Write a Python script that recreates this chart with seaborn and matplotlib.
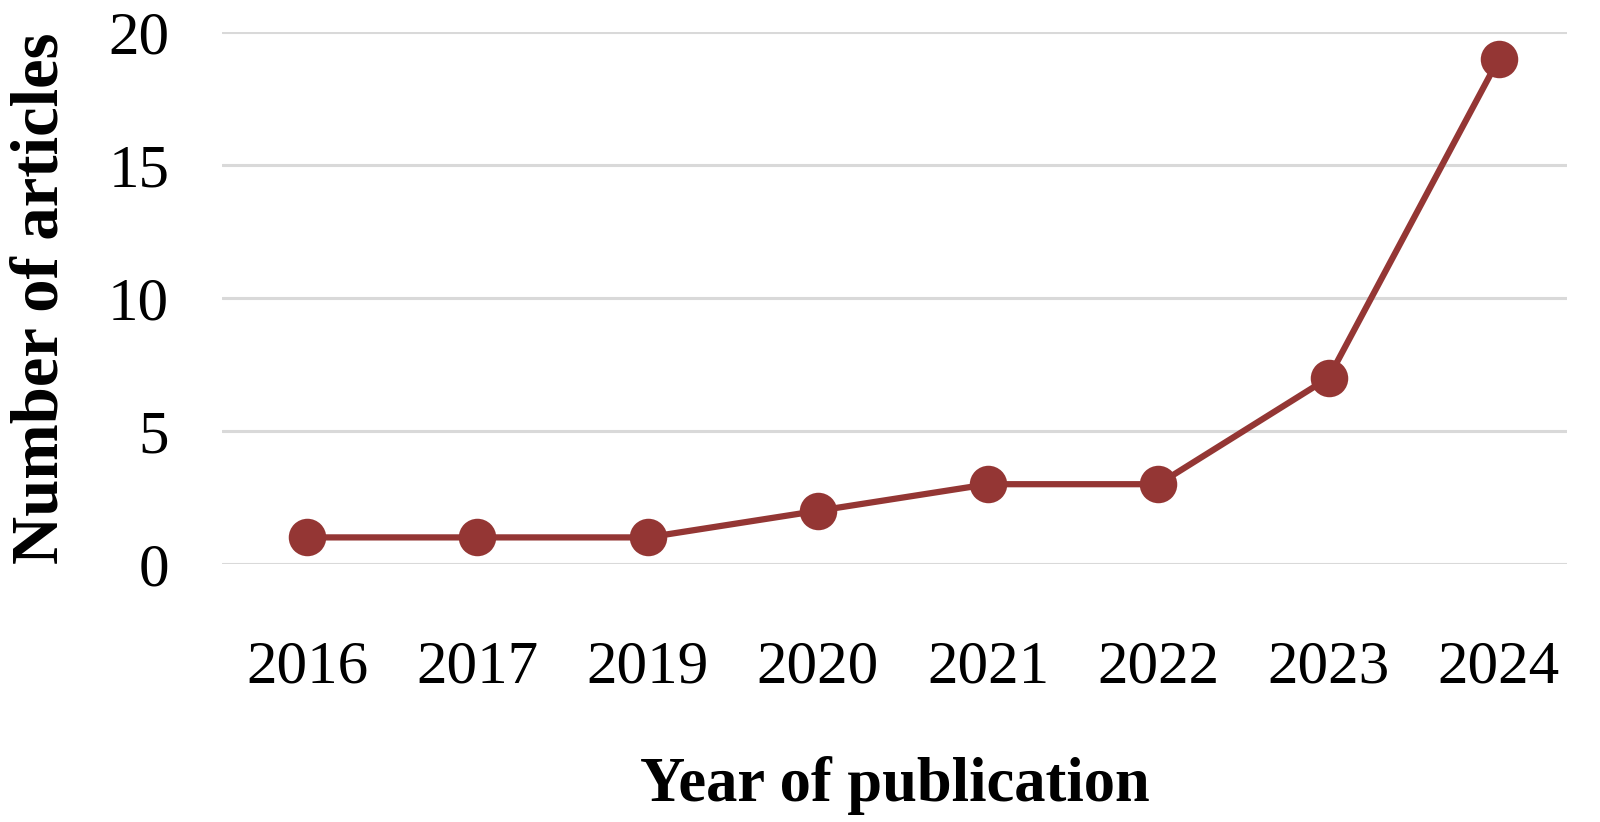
import matplotlib
matplotlib.use("Agg")
import matplotlib.pyplot as plt
import seaborn as sns
import pandas as pd

# 数据
years = ['2016', '2017', '2019', '2020', '2021', '2022', '2023', '2024']
counts = [1, 1, 1, 2, 3, 3, 7, 19]

df = pd.DataFrame({'year': years, 'count': counts})

sns.set_theme(style="white")
plt.rcParams['font.family'] = ['Liberation Serif', 'DejaVu Serif']
plt.rcParams['text.color'] = 'black'
plt.rcParams['axes.labelcolor'] = 'black'
plt.rcParams['xtick.color'] = 'black'
plt.rcParams['ytick.color'] = 'black'

fig = plt.figure(figsize=(16, 8.22), dpi=100)
ax = fig.add_axes([222 / 1600, 1 - 564 / 822, (1567 - 222) / 1600, (564 - 32) / 822])

line_color = '#943634'
sns.lineplot(data=df, x='year', y='count', ax=ax, color=line_color, linewidth=4.5,
             marker='o', markersize=27, markeredgewidth=0, sort=False, clip_on=False)

ax.set_ylim(0, 20)
ax.set_xlim(-0.5, 7.4)
ax.set_yticks([0, 5, 10, 15, 20])
ax.yaxis.grid(True, color='#d9d9d9', linewidth=2.2)
ax.set_axisbelow(True)
for s in ax.spines.values():
    s.set_visible(False)

ax.tick_params(axis='both', length=0, labelsize=44)
ax.tick_params(axis='y', pad=38)
ax.tick_params(axis='x', pad=55)

ax.set_xlabel('Year of publication', fontsize=45, fontweight='bold', labelpad=43)
ax.set_ylabel('Number of articles', fontsize=48, fontweight='bold', labelpad=26)

fig.savefig('out.png', dpi=100)
